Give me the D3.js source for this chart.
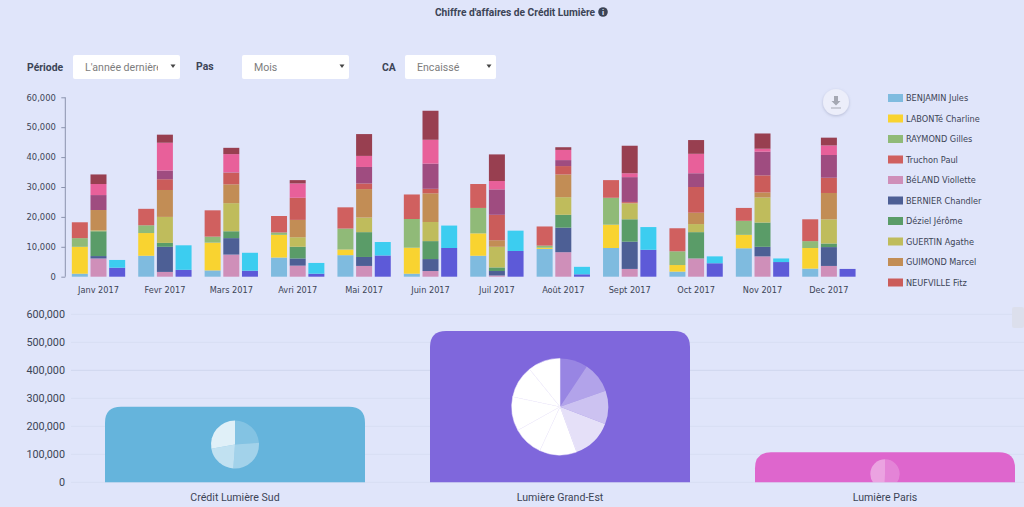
<!DOCTYPE html>
<html lang="fr"><head><meta charset="utf-8">
<script src="https://cdnjs.cloudflare.com/ajax/libs/d3/7.8.5/d3.min.js"></script>
<style>
html,body{margin:0;padding:0;background:#e0e5fa;overflow:hidden}
svg{display:block}
text{font-family:Roboto,sans-serif}
.dv text,text.dv{font-family:"DejaVu Sans",sans-serif}
</style></head><body>
<svg id="c" width="1024" height="507"></svg>
<script>
const months=["Janv 2017","Fevr 2017","Mars 2017","Avri 2017","Mai 2017","Juin 2017","Juil 2017","Août 2017","Sept 2017","Oct 2017","Nov 2017","Dec 2017"];
const legendNames=["BENJAMIN Jules","LABONTé Charline","RAYMOND Gilles","Truchon Paul","BéLAND Viollette","BERNIER Chandler","Déziel Jérôme","GUERTIN Agathe","GUIMOND Marcel","NEUFVILLE Fitz"];
// values in thousands
const benjamin=[1.0,7.0,2.1,6.4,7.2,1.0,7.0,9.3,9.6,1.7,9.5,2.7];
const labonte=[9.0,7.6,9.3,7.6,1.9,8.7,7.5,0.4,7.8,2.2,4.5,6.9];
const raymond=[2.9,2.6,2.0,0.8,7.0,9.6,8.5,0.7,9.0,4.6,4.7,2.3];
const truchon=[5.3,5.5,8.8,5.5,7.1,8.2,8.0,6.4,5.9,7.7,4.3,7.3];
const beland=[6.1,1.6,7.4,3.7,3.6,1.9,0.4,8.2,2.6,6.1,6.8,3.6];
const bernier=[0.8,8.4,5.5,2.4,3.0,4.0,1.5,8.2,9.1,0,3.2,6.3];
const deziel=[8.3,1.3,2.3,3.9,8.3,6.0,1.2,4.3,7.5,8.8,8.1,1.2];
const guertin=[0.3,8.7,9.4,3.2,4.9,6.4,6.9,5.9,5.3,2.7,8.4,8.1];
const guimond=[6.8,9.0,6.3,5.8,9.5,9.6,2.2,7.6,0.2,3.8,1.7,8.8];
const neufville=[0,3.6,3.9,7.4,1.9,1.5,8.5,2.8,0.3,8.6,5.7,5.1];
const seller11=[5.0,2.9,0.1,0,5.5,8.4,8.5,2.0,8.3,4.6,7.9,7.6];
const seller12=[3.7,9.3,6.1,4.8,3.7,8.0,2.8,3.4,1.3,6.5,1.0,3.2];
const seller13=[3.2,2.7,2.1,1.1,7.3,9.7,8.9,0.9,9.2,4.6,5.1,2.6];
const seller14=[3.0,2.3,2.0,1.0,7.1,9.6,8.6,0.8,9.0,4.5,4.9,2.6];
const seller15=[2.6,8.2,6.0,3.6,4.5,7.5,6.8,2.5,7.6,2.3,1.2,0];

const agencies=["Crédit Lumière Sud","Lumière Grand-Est","Lumière Paris"];
const agencyTotals=[270000,540000,107000];
const pieSud=[86,98,76,100];
const pieEst=[33.6,37.1,40.3,49,44.6,36.1,41.1,39.2,39];
const pieParis=[182,178];

const seriesA=[["a0",benjamin,"#7fbbdf"],["a1",labonte,"#f9d330"],["a2",raymond,"#90ba78"],["a3",truchon,"#d0605f"]];
const seriesB=[["b0",beland,"#cf8fb9"],["b1",bernier,"#4d5f95"],["b2",deziel,"#5a9c68"],["b3",guertin,"#bfbc5c"],["b4",guimond,"#c28d55"],["b5",neufville,"#cb5c5a"],["b6",seller11,"#9f4c80"],["b7",seller12,"#e8609a"],["b8",seller13,"#983f50"]];
const seriesC=[["c0",seller14,"#5d5ad8"],["c1",seller15,"#3ccdf0"]];
const groups=[["A",seriesA],["B",seriesB],["C",seriesC]];
const legendColors=[...seriesA,...seriesB].map(s=>s[2]);

const svg=d3.select("#c");
const ink="#3c4456";

// title
svg.append("text").attr("x",515).attr("y",16).attr("text-anchor","middle").attr("font-size",10.2).attr("font-weight",700).attr("fill",ink).text("Chiffre d'affaires de Crédit Lumière");
const info=svg.append("g").attr("transform","translate(603,12)");
info.append("circle").attr("r",4.8).attr("fill",ink);
info.append("text").attr("text-anchor","middle").attr("y",3.2).attr("font-size",8).attr("font-weight",700).attr("fill","#e0e5fa").text("i");

// filter controls
const controls=[["Période",27,73,107,"L'année dernière"],["Pas",196,242,107,"Mois"],["CA",382,405,91,"Encaissé"]];
const defs=svg.append("defs");
const shadow=defs.append("filter").attr("id","sh").attr("x","-40%").attr("y","-40%").attr("width","180%").attr("height","180%");
shadow.append("feDropShadow").attr("dx",0).attr("dy",1).attr("stdDeviation",1.6).attr("flood-color","#8088a8").attr("flood-opacity",.45);
controls.forEach((c,i)=>{
  const [lab,lx,bx,bw,val]=c;
  svg.append("text").attr("x",lx).attr("y",i==1?70:71).attr("font-size",10.4).attr("font-weight",700).attr("fill",ink).text(lab);
  svg.append("rect").attr("x",bx).attr("y",55).attr("width",bw).attr("height",24).attr("rx",2).attr("fill","#fff");
  defs.append("clipPath").attr("id","sel"+i).append("rect").attr("x",bx).attr("y",55).attr("width",bw-22).attr("height",24);
  svg.append("text").attr("x",bx+12).attr("y",71).attr("font-size",10.6).attr("fill","#7d7d7d").attr("clip-path",`url(#sel${i})`).text(val);
  svg.append("path").attr("transform",`translate(${bx+bw-7},66)`).attr("d","M-2.5,-1.5H2.5L0,2Z").attr("fill","#444");
});

// stacked chart
const y=d3.scaleLinear().domain([0,60000]).range([276.7,97.3]);
const x=d3.scaleBand().domain(months).range([65.3,862.1]);
const xi=d3.scaleBand().domain(groups.map(g=>g[0])).range([0,x.bandwidth()]).paddingInner(.143).paddingOuter(.35);

groups.forEach(([gk,ser])=>{
  const rows=months.map((m,i)=>{const r={month:m};ser.forEach(s=>r[s[0]]=s[1][i]*1000);return r;});
  const st=d3.stack().keys(ser.map(s=>s[0]))(rows);
  svg.append("g").selectAll("g").data(st).join("g").attr("fill",(d,i)=>ser[i][2])
    .selectAll("rect").data(d=>d).join("rect")
    .attr("x",d=>x(d.data.month)+xi(gk)).attr("width",xi.bandwidth())
    .attr("y",d=>y(d[1])).attr("height",d=>Math.max(0,y(d[0])-y(d[1])));
});

const yAxis=svg.append("g").attr("class","dv").attr("transform","translate(65.3,0)")
  .call(d3.axisLeft(y).ticks(6).tickFormat(d3.format(",")).tickSize(4).tickPadding(5));
yAxis.selectAll("text").attr("font-size",8.4).attr("fill",ink).attr("dx",-.5);
yAxis.selectAll("line,path").attr("stroke","#8b93ad");
yAxis.select("path").attr("d","M0,97.3V276.7");

const xAxis=svg.append("g").attr("class","dv").attr("transform","translate(0,276.7)")
  .call(d3.axisBottom(x).tickSize(0).tickPadding(10));
xAxis.select("path").remove();
xAxis.selectAll("text").attr("font-size",8.2).attr("fill",ink);

// legend
const lg=svg.append("g").selectAll("g").data(legendNames).join("g").attr("transform",(d,i)=>`translate(888,${98+i*20.5})`);
lg.append("rect").attr("y",-4).attr("width",15).attr("height",8).attr("fill",(d,i)=>legendColors[i]);
lg.append("text").attr("class","dv").attr("x",18).attr("y",3).attr("font-size",8.2).attr("fill",ink).text(d=>d);

// download button
const dl=svg.append("g").attr("transform","translate(836,102)");
dl.append("circle").attr("r",13).attr("fill","#eceefa").attr("filter","url(#sh)");
dl.append("path").attr("d","M-2,-6H2V-1H4.5L0,3.5L-4.5,-1H-2Z").attr("fill","#a5a8b3");
dl.append("path").attr("d","M-5,6H5").attr("stroke","#a5a8b3").attr("stroke-width",1);

// agency chart
const y2=d3.scaleLinear().domain([0,600000]).range([482.3,314.3]);
const x2=d3.scaleBand().domain(agencies).range([72.5,1047.5]).padding(.2).paddingOuter(.1);
const agencyColors=["#65b4dc","#7f67dc","#de66cd"];

const y2Axis=svg.append("g").attr("transform","translate(70,0)")
  .call(d3.axisLeft(y2).ticks(6).tickFormat(d3.format(",")).tickSize(0).tickPadding(5));
y2Axis.select("path").remove();
y2Axis.selectAll("text").attr("font-size",10.8).attr("fill",ink);
svg.append("g").selectAll("line").data(y2.ticks(6)).join("line")
  .attr("x1",71).attr("x2",1024).attr("y1",d=>y2(d)).attr("y2",d=>y2(d))
  .attr("stroke",d=>d===400000?"#cfd6ee":"#d8def3");

const barPath=(x0,w,yt,yb,r)=>{
  const rr=Math.min(r,yb-yt);
  return `M${x0},${yb}V${yt+rr}Q${x0},${yt} ${x0+rr},${yt}H${x0+w-rr}Q${x0+w},${yt} ${x0+w},${yt+rr}V${yb}Z`;
};
svg.append("g").selectAll("path").data(agencies).join("path")
  .attr("d",(d,i)=>barPath(x2(d),x2.bandwidth(),y2(agencyTotals[i]),y2(0),16))
  .attr("fill",(d,i)=>agencyColors[i]);

const pies=[[pieSud,24,0,[.2,.4,.6,.8]],[pieEst,48.3,0,[.2,.4,.6,.8,1,1,1,1,1]],[pieParis,14.7,6.7,[.2,.4]]];
defs.append("clipPath").attr("id","plot2").append("rect").attr("x",0).attr("y",0).attr("width",1024).attr("height",y2(0));
pies.forEach(([vals,r,dy,ops],k)=>{
  const name=agencies[k];
  const cx=x2(name)+x2.bandwidth()/2, cy=(y2(agencyTotals[k])+y2(0))/2+dy;
  const arcs=d3.pie().sort(null)(vals);
  svg.append("g").attr("clip-path","url(#plot2)").append("g").attr("transform",`translate(${cx},${cy})`)
    .selectAll("path").data(arcs).join("path")
    .attr("d",d3.arc().innerRadius(0).outerRadius(r))
    .attr("fill","#fff").attr("fill-opacity",(d,i)=>ops[i])
    .attr("stroke",(d,i)=>ops[i]===1?"#f8f7fd":"none").attr("stroke-width",.5);
});
const x2Axis=svg.append("g").attr("transform","translate(0,482.3)")
  .call(d3.axisBottom(x2).tickSize(0).tickPadding(11));
x2Axis.select("path").remove();
x2Axis.selectAll("text").attr("font-size",10.6).attr("fill",ink);

// scroll handle
svg.append("rect").attr("x",1012).attr("y",307).attr("width",12).attr("height",21).attr("rx",2).attr("fill","#dcdfec");
</script>
</body></html>
